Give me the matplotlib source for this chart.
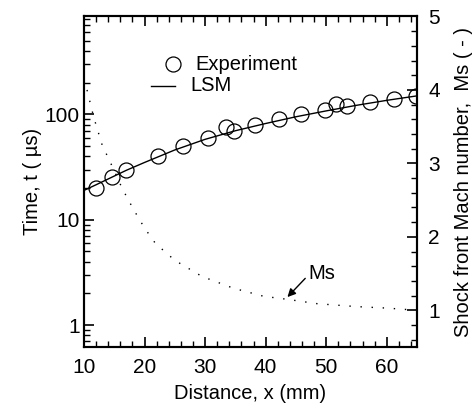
import matplotlib
matplotlib.use("Agg")
import matplotlib.pyplot as plt
from matplotlib.ticker import MultipleLocator, LogLocator, NullFormatter

plt.rcParams['font.family'] = ['Liberation Sans', 'DejaVu Sans']

# Experiment data (distance mm, time us)
exp_x = [11.9, 14.7, 17.0, 22.2, 26.3, 30.5, 33.5, 34.7, 38.2, 42.2, 45.8, 49.8, 51.6, 53.4, 57.3, 61.2, 64.9]
exp_t = [20, 25.4, 30, 40, 50, 60, 76, 70, 80, 91, 100, 109, 126, 119, 131, 141, 148]

# LSM fit line
lsm_x = [10, 12, 15, 17, 20, 25, 30, 35, 40, 45, 50, 55, 60, 65]
lsm_t = [19.0, 21.5, 26, 29.5, 35, 46, 58, 70, 82, 95, 108, 122, 136, 150]

# Shock front Mach number
ms_x = [10.5, 11.6, 13, 15, 16.3, 18.2, 20, 21.8, 25, 29.5, 34.7, 39.7, 43.5, 48.5, 55, 60, 65]
ms_v = [4.0, 3.63, 3.25, 2.9, 2.66, 2.37, 2.12, 1.91, 1.68, 1.46, 1.30, 1.19, 1.15, 1.09, 1.05, 1.03, 1.0]

fig = plt.figure(figsize=(4.74, 4.15), dpi=100)
ax = fig.add_axes([84/474, 1-347/415, (417-84)/474, (347-16.5)/415])
ax2 = ax.twinx()

ax.plot(lsm_x, lsm_t, color='black', lw=1.0, zorder=2)
ax.plot(exp_x, exp_t, 'o', mfc='none', mec='black', ms=10.8, mew=0.9, zorder=3)
ax2.plot(ms_x, ms_v, color='black', lw=1.0, linestyle=(0, (1, 7)))

ax.set_xlim(10, 65)
ax.set_yscale('log')
ax.set_ylim(0.62, 850)
ax2.set_ylim(0.5, 5)

fs = 15
ax.xaxis.set_major_locator(MultipleLocator(10))
ax.xaxis.set_minor_locator(MultipleLocator(2))
ax.yaxis.set_minor_locator(LogLocator(base=10, subs=range(2, 10), numticks=20))
ax.yaxis.set_minor_formatter(NullFormatter())
ax.set_yticks([1, 10, 100])
ax.set_yticklabels(['1', '10', '100'])
ax2.yaxis.set_major_locator(MultipleLocator(1))
ax2.yaxis.set_minor_locator(MultipleLocator(0.2))

ax.tick_params(axis='x', which='both', direction='in', top=True, bottom=True, labelsize=fs, pad=8)
ax.tick_params(axis='y', which='both', direction='in', left=True, right=False, labelsize=fs, pad=3)
ax.tick_params(which='major', length=7, width=1.2)
ax.tick_params(which='minor', length=4, width=1.0)
ax2.tick_params(axis='y', which='both', direction='in', labelsize=fs, pad=8)
ax2.tick_params(which='major', length=7, width=1.2)
ax2.tick_params(which='minor', length=4, width=1.0)

for a in (ax, ax2):
    for s in a.spines.values():
        s.set_linewidth(1.5)

lfs = 14.5
ax.set_xlabel('Distance, x (mm)', fontsize=lfs, labelpad=5)
ax.set_ylabel('Time, t ( µs)', fontsize=lfs, labelpad=2)
ax2.set_ylabel('Shock front Mach number,  Ms ( - )', fontsize=lfs, labelpad=10)

# legend drawn manually
ax.plot([0.266], [0.855], 'o', mfc='none', mec='black', ms=10.8, mew=0.9, transform=ax.transAxes, clip_on=False)
ax.text(0.333, 0.855, 'Experiment', transform=ax.transAxes, fontsize=lfs, va='center', ha='left')
ax.plot([0.2, 0.274], [0.79, 0.79], color='black', lw=1.0, transform=ax.transAxes)
ax.text(0.318, 0.79, 'LSM', transform=ax.transAxes, fontsize=lfs, va='center', ha='left')

ax2.annotate('Ms', xy=(43.6, 1.18), xytext=(47.0, 1.5), fontsize=lfs, va='center', ha='left',
             arrowprops=dict(arrowstyle='-|>', color='black', lw=1.0, mutation_scale=12,
                             shrinkA=0, shrinkB=0, relpos=(0, 0.4)))

fig.savefig('out.png', dpi=100)
